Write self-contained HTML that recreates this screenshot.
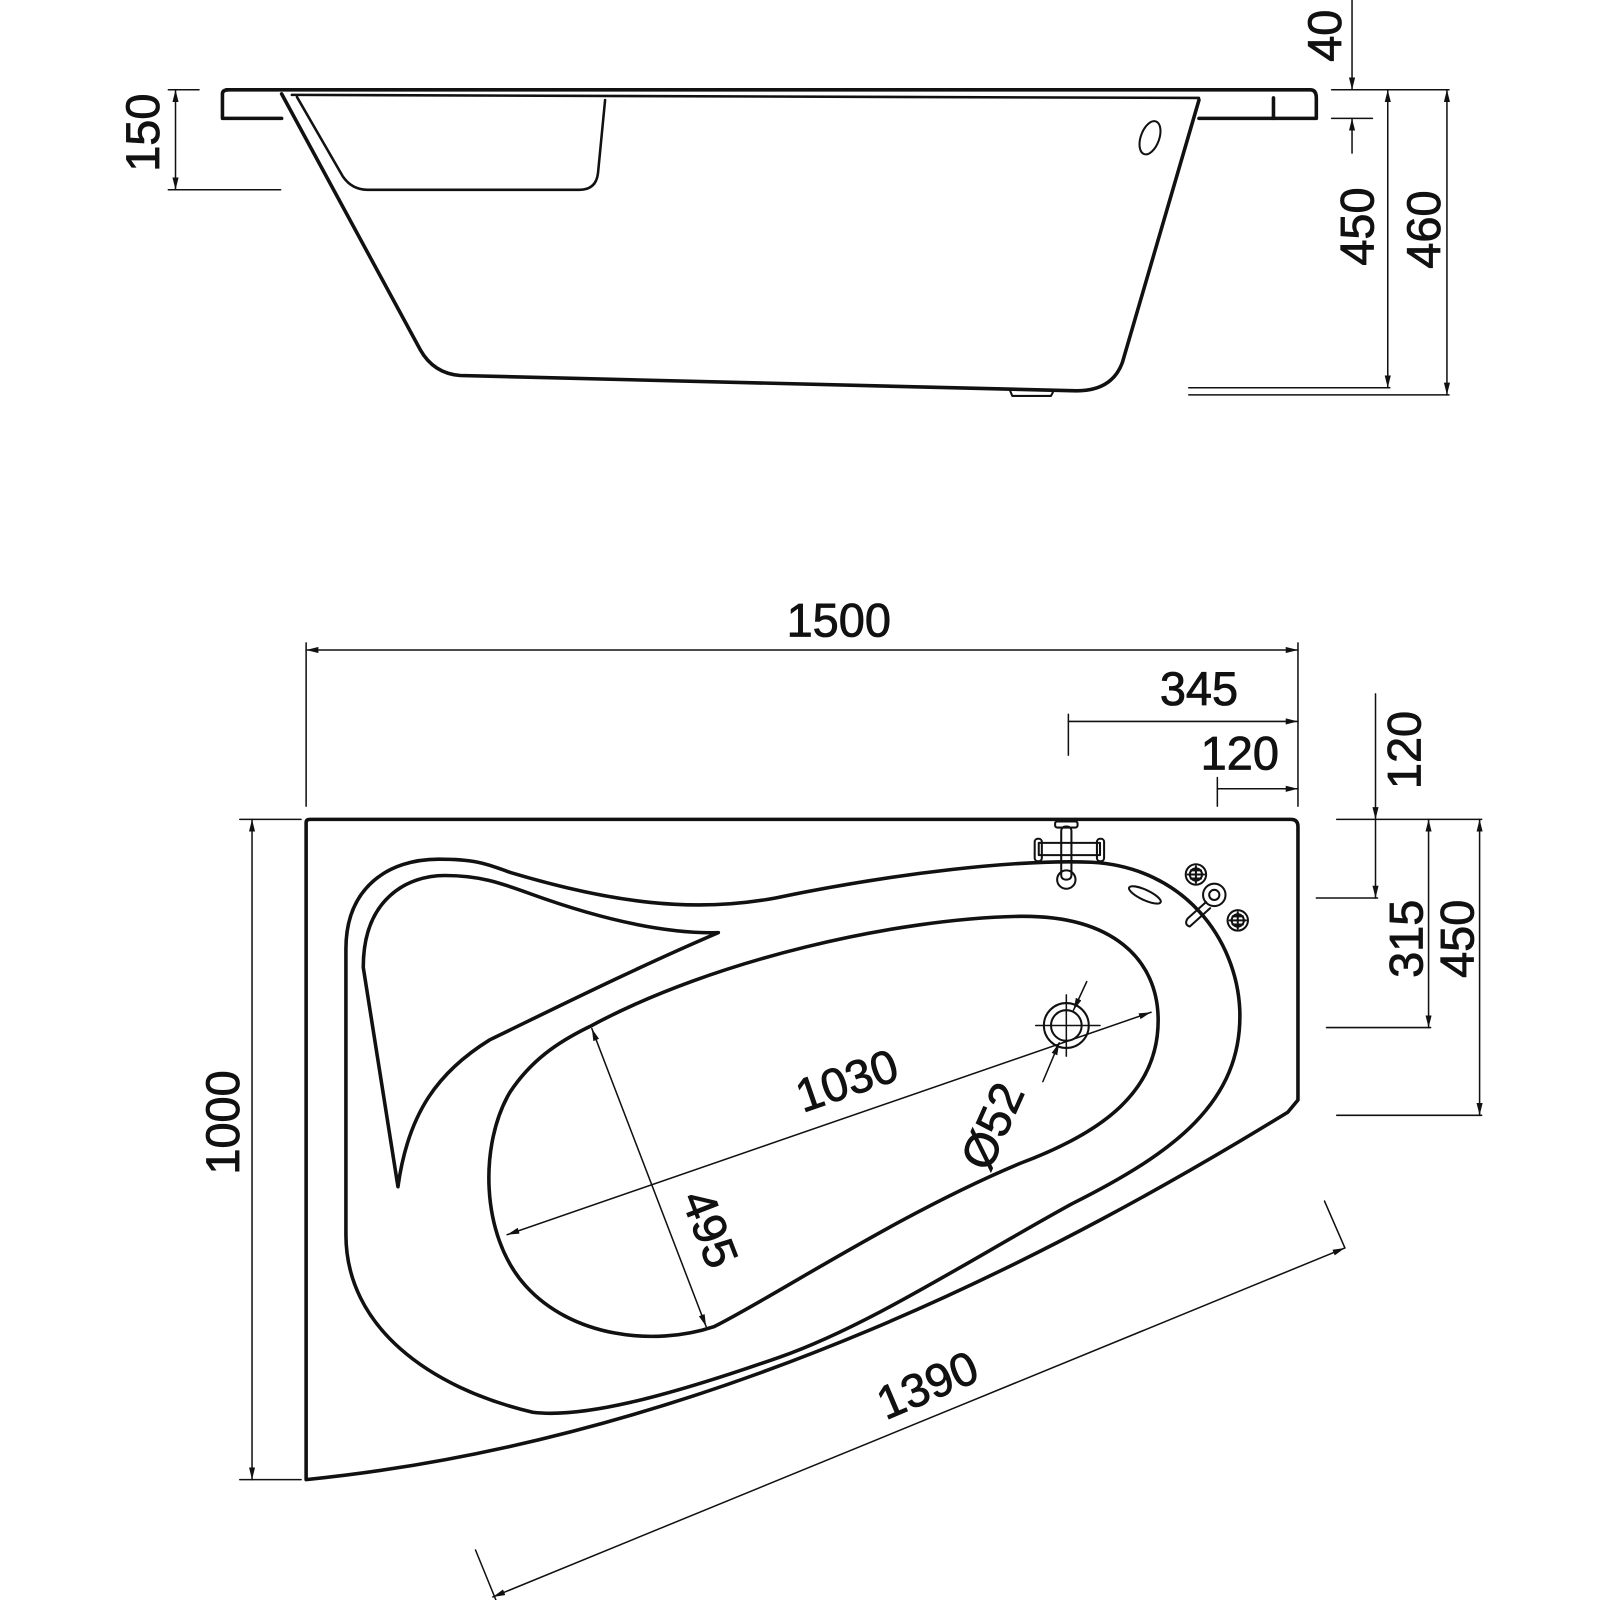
<!DOCTYPE html>
<html><head><meta charset="utf-8"><style>html,body{margin:0;padding:0;background:#fff}svg{display:block}</style></head>
<body>
<svg width="1600" height="1600" viewBox="0 0 1568 1568" xmlns="http://www.w3.org/2000/svg" font-family="Liberation Sans, sans-serif">
<defs>
<marker id="a" viewBox="0 0 12 6" refX="12" refY="3" markerWidth="12" markerHeight="6" markerUnits="userSpaceOnUse" orient="auto-start-reverse"><path d="M0,0 L12,3 L0,6 Z" fill="#111"/></marker>
</defs>
<g fill="none" stroke="#111" stroke-linejoin="round" stroke-linecap="round">
<!-- SIDE VIEW -->
<g stroke-width="3.5">
<path d="M222,88 L1284,88 Q1290,88 1290,96 L1290,116 L1175,116"/>
<path d="M276,116 L218,116 L218,92 Q218,88 224,88"/>
<line x1="1248" y1="96" x2="1248" y2="116"/>
<path d="M276,92 L412,343 Q425,366 451,368 L1055,383 Q1090,383 1100,355 L1175,98"/>
<path d="M291,95 L336,173 Q345,186 360,186 L568,186 Q584,186 586,170 L593,98" stroke-width="2.5"/>
<line x1="286" y1="93" x2="1175" y2="96" stroke-width="2.5"/>
</g>
<ellipse cx="1127" cy="135" rx="9" ry="17" transform="rotate(20 1127 135)" stroke-width="2"/>
<path d="M990,383 L992,388 L1030,388 L1032,384" stroke-width="2"/>
<g stroke-width="1.5">
<line x1="172" y1="88" x2="172" y2="186" marker-start="url(#a)" marker-end="url(#a)"/>
<line x1="165" y1="88" x2="195" y2="88"/><line x1="165" y1="186" x2="275" y2="186"/>
<line x1="1325" y1="0" x2="1325" y2="88" marker-end="url(#a)"/>
<line x1="1325" y1="150" x2="1325" y2="116" marker-end="url(#a)"/>
<line x1="1305" y1="88" x2="1420" y2="88"/><line x1="1305" y1="116" x2="1345" y2="116"/>
<line x1="1360" y1="88" x2="1360" y2="380" marker-start="url(#a)" marker-end="url(#a)"/>
<line x1="1418" y1="88" x2="1418" y2="387" marker-start="url(#a)" marker-end="url(#a)"/>
<line x1="1165" y1="380" x2="1362" y2="380"/><line x1="1165" y1="387" x2="1420" y2="387"/>
</g>
<!-- PLAN VIEW -->
<g stroke-width="3.5">
<path d="M300,806 Q300,803 304,803 L1265,803 Q1272,803 1272,810 L1272,1078 L1262,1090 C1050,1220 700,1410 300,1450 Z"/>
<path d="M339,1210 L339,930 C339,870 380,842 430,842 C470,842 480,848 500,855 C600,885 680,895 760,880 C880,855 1000,842 1070,845 C1160,850 1212,920 1215,990 C1218,1080 1150,1130 1050,1180 C950,1235 850,1300 764,1330 C650,1370 570,1390 522,1384 C420,1360 339,1300 339,1210 Z"/>
<path d="M356,948 C356,880 400,858 436,858 C470,858 490,865 520,876 C600,905 660,915 704,914 C620,950 540,990 480,1019 C430,1050 400,1090 390,1163 L356,948 Z"/>
<path d="M578,1006 C700,940 880,900 1000,898 C1090,897 1135,940 1135,1000 C1135,1070 1080,1110 1000,1140 C880,1190 760,1270 700,1300 C640,1320 560,1310 515,1260 C470,1210 470,1120 500,1070 C520,1040 545,1022 578,1006 Z"/>
</g>
<!-- faucet -->
<g stroke-width="2">
<rect x="1034" y="805" width="22" height="6" rx="2"/>
<rect x="1040" y="810" width="10" height="52" rx="4"/>
<circle cx="1045" cy="862" r="9"/>
<rect x="1018" y="826" width="60" height="12"/>
<rect x="1014" y="822" width="7" height="22" rx="3"/><rect x="1075" y="822" width="7" height="22" rx="3"/>
<ellipse cx="1122" cy="877" rx="17" ry="5" transform="rotate(25 1122 877)"/>
<circle cx="1172" cy="857" r="10"/><circle cx="1172" cy="857" r="6"/><path d="M1164,857 H1180 M1172,849 V865 M1167,853 H1177 M1167,861 H1177"/>
<circle cx="1213" cy="902" r="10"/><circle cx="1213" cy="902" r="6"/><path d="M1205,902 H1221 M1213,894 V910 M1208,898 H1218 M1208,906 H1218"/>
<circle cx="1190" cy="877" r="11"/><circle cx="1190" cy="877" r="5"/>
<path d="M1182,884 L1164,900 Q1160,906 1166,908 L1186,890"/>
<circle cx="1045" cy="1005" r="22"/><circle cx="1045" cy="1005" r="15"/>
</g>
<g stroke-width="1.5">
<line x1="1015" y1="1005" x2="1078" y2="1005"/><line x1="1045" y1="975" x2="1045" y2="1035"/>
<line x1="1065" y1="962" x2="1052" y2="990" marker-end="url(#a)"/>
<line x1="1022" y1="1060" x2="1038" y2="1022" marker-end="url(#a)"/>
<line x1="497" y1="1210" x2="1128" y2="992" marker-start="url(#a)" marker-end="url(#a)"/>
<line x1="580" y1="1008" x2="692" y2="1300" marker-start="url(#a)" marker-end="url(#a)"/>
<line x1="300" y1="637" x2="1272" y2="637" marker-start="url(#a)" marker-end="url(#a)"/>
<line x1="300" y1="630" x2="300" y2="790"/><line x1="1272" y1="630" x2="1272" y2="790"/>
<line x1="1047" y1="707" x2="1272" y2="707" marker-end="url(#a)"/><line x1="1047" y1="700" x2="1047" y2="740"/>
<line x1="1193" y1="773" x2="1272" y2="773" marker-end="url(#a)"/><line x1="1193" y1="762" x2="1193" y2="790"/>
<line x1="1310" y1="803" x2="1452" y2="803"/><line x1="1290" y1="880" x2="1350" y2="880"/>
<line x1="1300" y1="1007" x2="1402" y2="1007"/><line x1="1310" y1="1093" x2="1452" y2="1093"/>
<line x1="1348" y1="680" x2="1348" y2="803" marker-end="url(#a)"/>
<line x1="1348" y1="803" x2="1348" y2="880" marker-end="url(#a)"/>
<line x1="1400" y1="803" x2="1400" y2="1007" marker-start="url(#a)" marker-end="url(#a)"/>
<line x1="1450" y1="803" x2="1450" y2="1093" marker-start="url(#a)" marker-end="url(#a)"/>
<line x1="247" y1="803" x2="247" y2="1450" marker-start="url(#a)" marker-end="url(#a)"/>
<line x1="235" y1="803" x2="295" y2="803"/><line x1="235" y1="1450" x2="295" y2="1450"/>
<line x1="483" y1="1565" x2="1318" y2="1223" marker-start="url(#a)" marker-end="url(#a)"/>
<line x1="466" y1="1519" x2="486" y2="1568"/><line x1="1298" y1="1177" x2="1318" y2="1223"/>
</g>
</g>
<g fill="#111" font-size="46" text-anchor="middle" stroke="#111" stroke-width="0.8">
<text x="822" y="624">1500</text>
<text x="1175" y="691">345</text>
<text x="1215" y="754">120</text>
<text transform="translate(1392,735) rotate(-90)">120</text>
<text transform="translate(1394,920) rotate(-90)">315</text>
<text transform="translate(1444,920) rotate(-90)">450</text>
<text transform="translate(234,1100) rotate(-90)">1000</text>
<text transform="translate(915,1372) rotate(-23)">1390</text>
<text transform="translate(835,1074) rotate(-19)">1030</text>
<text transform="translate(681,1210) rotate(69)">495</text>
<text transform="translate(987,1110) rotate(-66)">Ø52</text>
<text transform="translate(156,130) rotate(-90)">150</text>
<text transform="translate(1314,35) rotate(-90)">40</text>
<text transform="translate(1346,222) rotate(-90)">450</text>
<text transform="translate(1411,225) rotate(-90)">460</text>
</g>
</svg>
</body></html>
